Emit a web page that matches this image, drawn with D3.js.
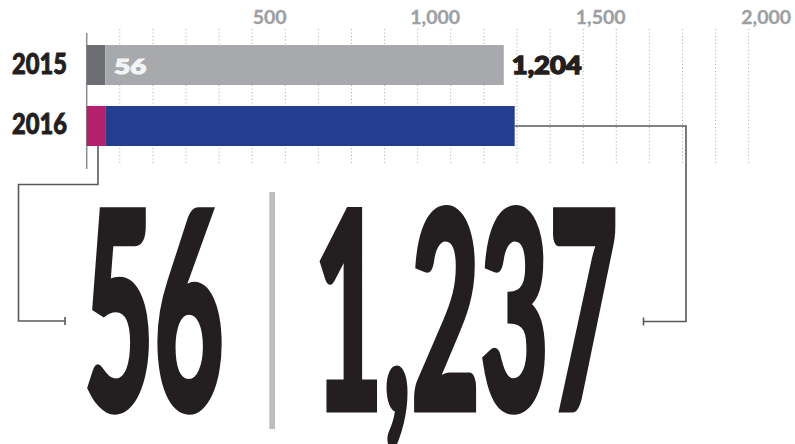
<!DOCTYPE html>
<html>
<head>
<meta charset="utf-8">
<script src="https://cdn.jsdelivr.net/npm/d3@7"></script>
<style>
  html, body { margin: 0; padding: 0; background: #ffffff; }
  svg { display: block; }
</style>
</head>
<body>
<svg id="chart" width="795" height="444"></svg>
<script>
// ---- data ----
const years = ["2015", "2016"];
const firstSegment = [56, 56];          // dark / magenta part
const secondSegment = [1204, 1237];     // grey / blue part
const tickLabels = [500, 1000, 1500, 2000];
const gridStep = 100;
const bigNumbers = ["56", "1,237"];
const firstColors = ["#6d6e71", "#b3206c"];
const secondColors = ["#a7a9ac", "#243d8e"];

const svg = d3.select("#chart");

const x = d3.scaleLinear().domain([0, 2000]).range([86.7, 748.7]);
const y = d3.scaleBand().domain(years).range([45, 146]).paddingInner(0.344).paddingOuter(0);

const ink = "#231f20";
const font = "Lato, 'Open Sans', sans-serif";

// place a text so its advance width equals targetW, using a horizontal scale transform
function fitText(sel, x0, y0, targetW) {
  sel.attr("x", 0).attr("y", 0);
  const w = sel.node().getComputedTextLength();
  sel.attr("transform", `translate(${x0},${y0}) scale(${targetW / w},1)`);
  return sel;
}

// gridlines
const gridVals = d3.range(gridStep, 2000 + 1, gridStep);
svg.append("g").selectAll("line").data(gridVals).join("line")
  .attr("x1", d => x(d)).attr("x2", d => x(d))
  .attr("y1", 29).attr("y2", 163)
  .attr("stroke", "#a7a9ac").attr("stroke-width", 1)
  .attr("stroke-dasharray", "1,2.5");

// tick labels
svg.append("g").selectAll("text").data(tickLabels).join("text")
  .attr("x", d => x(d) + 17.5).attr("y", 24)
  .attr("text-anchor", "middle")
  .attr("font-family", font).attr("font-weight", 700).attr("font-size", 19.5)
  .attr("fill", "#9d9fa2").attr("stroke", "#9d9fa2").attr("stroke-width", 0.3)
  .text(d => d3.format(",")(d));

// axis line
svg.append("line")
  .attr("x1", x(0)).attr("x2", x(0)).attr("y1", 33).attr("y2", 169)
  .attr("stroke", "#8a8c8e").attr("stroke-width", 1.5);

// bars
const rows = years.map((yr, i) => ({ yr, a: firstSegment[i], b: secondSegment[i], i }));
const g = svg.append("g");
g.selectAll("rect.a").data(rows).join("rect").attr("class", "a")
  .attr("x", x(0)).attr("y", d => y(d.yr))
  .attr("width", d => x(d.a) - x(0)).attr("height", y.bandwidth())
  .attr("fill", d => firstColors[d.i]);
g.selectAll("rect.b").data(rows).join("rect").attr("class", "b")
  .attr("x", d => x(d.a)).attr("y", d => y(d.yr))
  .attr("width", d => x(d.a + d.b) - x(d.a)).attr("height", y.bandwidth())
  .attr("fill", d => secondColors[d.i]);

// year labels
svg.append("g").selectAll("text").data(years).join("text")
  .attr("font-family", font).attr("font-weight", 900).attr("font-size", 28)
  .attr("fill", ink).attr("stroke", ink).attr("stroke-width", 0.9)
  .text(d => d)
  .each(function (d) { fitText(d3.select(this), 12, y(d) + y.bandwidth() / 2 + 8.5, 55); });

// 2015 value labels
const r15 = rows[0];
fitText(svg.append("text")
  .attr("font-family", font).attr("font-weight", 900).attr("font-size", 21)
  .attr("fill", "#f4f4f4").attr("stroke", "#f4f4f4").attr("stroke-width", 1.2)
  .text(d3.format(",")(r15.a)), x(r15.a) + 9, y(r15.yr) + 29, 32);
fitText(svg.append("text")
  .attr("font-family", font).attr("font-weight", 900).attr("font-size", 24)
  .attr("fill", ink).attr("stroke", ink).attr("stroke-width", 1.4)
  .text(d3.format(",")(r15.b)), x(r15.a + r15.b) + 8, y(r15.yr) + 29, 70);

// brackets for 2016
const r16 = rows[1];
const barBottom = y(r16.yr) + y.bandwidth();
const barMid = y(r16.yr) + y.bandwidth() / 2;
const bracketColor = "#58595b";
const lx = x(r16.a / 2) + 2;
svg.append("path")
  .attr("d", `M${lx},${barBottom} V184.5 H18.5 V321 H65`)
  .attr("fill", "none").attr("stroke", bracketColor).attr("stroke-width", 1.6);
svg.append("line").attr("x1", 65).attr("x2", 65).attr("y1", 317).attr("y2", 325)
  .attr("stroke", bracketColor).attr("stroke-width", 1.6);
const rx = x(r16.a + r16.b);
svg.append("path")
  .attr("d", `M${rx},${barMid} H686 V321.5 H643.5`)
  .attr("fill", "none").attr("stroke", bracketColor).attr("stroke-width", 1.6);
svg.append("line").attr("x1", 643.5).attr("x2", 643.5).attr("y1", 317.5).attr("y2", 325.5)
  .attr("stroke", bracketColor).attr("stroke-width", 1.6);

// separator
svg.append("rect").attr("x", 269.3).attr("y", 192).attr("width", 5.7).attr("height", 237)
  .attr("fill", "#bcbec0");

// big numbers
const bigPos = [{ x: 84, w: 140 }, { x: 314, w: 304 }];
svg.append("g").selectAll("text").data(bigNumbers).join("text")
  .attr("font-family", font).attr("font-weight", 900).attr("font-size", 276)
  .attr("fill", ink).attr("stroke", ink).attr("stroke-width", 5)
  .text(d => d)
  .each(function (d, i) { fitText(d3.select(this), bigPos[i].x, 410, bigPos[i].w); });
</script>
</body>
</html>
